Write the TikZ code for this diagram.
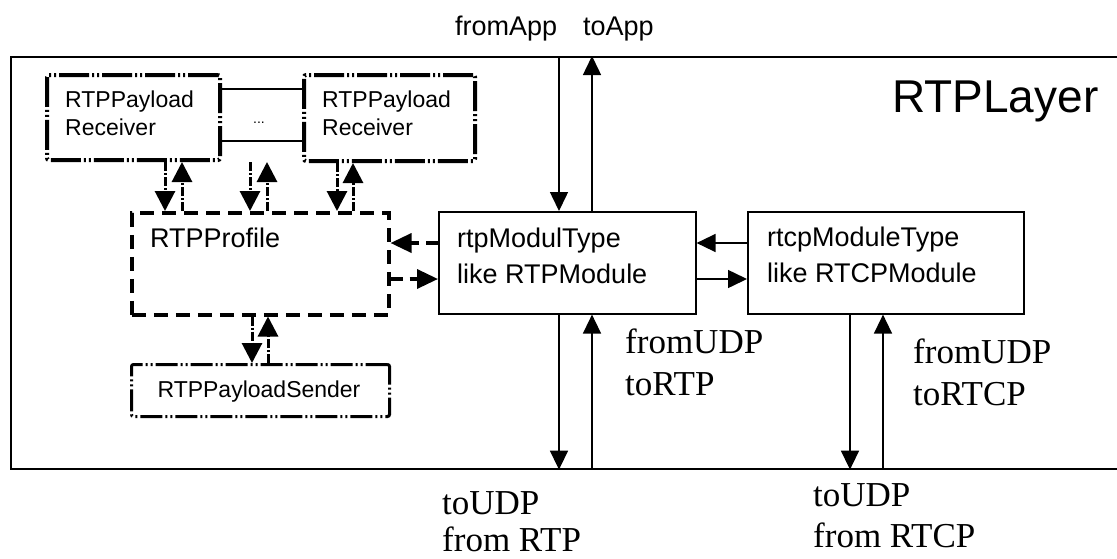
\documentclass[tikz,border=0pt]{standalone}
\usepackage{fontspec}
\setmainfont{Liberation Serif}
\setsansfont{Liberation Sans}
\usetikzlibrary{arrows.meta,calc}

\tikzset{
  frame/.style={draw, line width=1.6pt, inner sep=0pt, anchor=north west},
  modbox/.style={draw, line width=1.6pt, inner sep=0pt, anchor=north west},
  recvbox/.style={draw, line width=4pt, inner sep=0pt, anchor=north west, rounded corners=2pt,
    dash pattern=on 30pt off 3pt on 2pt off 3pt on 2pt off 3pt},
  sendbox/.style={draw, line width=3pt, inner sep=0pt, anchor=north west, rounded corners=2pt,
    dash pattern=on 22pt off 3pt on 2pt off 3pt on 2pt off 3pt},
  profbox/.style={draw, line width=3.5pt, inner sep=0pt, anchor=north west,
    dash pattern=on 14pt off 8pt},
  link/.style={line width=1.5pt},
  thinarr/.style={line width=1.5pt, -{Triangle[width=18pt,length=19pt]}},
  thickarr/.style={line width=3pt, dash pattern=on 9pt off 2pt on 2pt off 2pt,
    -{Triangle[width=20pt,length=20pt]}},
  dasharr/.style={line width=3.5pt, dash pattern=on 12pt off 7pt,
    -{Triangle[width=19pt,length=21pt]}},
  sanstext/.style={font=\sffamily\fontsize{27}{32}\selectfont, inner sep=0pt, anchor=base west},
  smalltext/.style={font=\sffamily\fontsize{23}{28}\selectfont, inner sep=0pt, anchor=base west},
  seriftext/.style={font=\rmfamily\fontsize{35}{40}\selectfont, inner sep=0pt, anchor=base west},
}

\begin{document}
\begin{tikzpicture}[x=1pt, y=-1pt]
  \fill[white] (0,0) rectangle (1117,558);
  \clip (0,0) rectangle (1117,558);

  % enclosing layer
  \node[frame, minimum width=1130pt, minimum height=412pt] (layer) at (10,56) {};
  \node[font=\sffamily\fontsize{46}{50}\selectfont, inner sep=0pt, anchor=base west] (title) at (892,112) {RTPLayer};

  % payload receivers
  \node[recvbox, minimum width=173pt, minimum height=85pt] (recvA) at (45,73) {};
  \node[recvbox, minimum width=171pt, minimum height=86pt] (recvB) at (302,73) {};
  \node[smalltext] (recvAa) at (65,107) {RTPPayload};
  \node[smalltext] (recvAb) at (65,135) {Receiver};
  \node[smalltext] (recvBa) at (322,107) {RTPPayload};
  \node[smalltext] (recvBb) at (322,135) {Receiver};
  \draw[link] ($(recvA.north east)+(0,16)$) -- ($(recvB.north west)+(0,16)$);
  \draw[link] ($(recvA.north east)+(0,68)$) -- ($(recvB.north west)+(0,68)$);
  \node[font=\sffamily\fontsize{14}{14}\selectfont, inner sep=0pt, anchor=base] (dots) at (259,123) {...};

  % profile and sender
  \node[profbox, minimum width=257pt, minimum height=102pt] (prof) at (130,211) {};
  \node[sanstext] (proftext) at (150,247) {RTPProfile};
  \node[sendbox, minimum width=258pt, minimum height=52pt] (send) at (130,363) {};
  \node[smalltext, anchor=base] (sendtext) at (259,397) {RTPPayloadSender};

  % modules
  \node[modbox, minimum width=257pt, minimum height=102pt] (rtp) at (438,211) {};
  \node[sanstext] (rtpa) at (457,247) {rtpModulType};
  \node[sanstext] (rtpb) at (457,283) {like RTPModule};
  \node[modbox, minimum width=276pt, minimum height=102pt] (rtcp) at (747,211) {};
  \node[sanstext] (rtcpa) at (767,246) {rtcpModuleType};
  \node[sanstext] (rtcpb) at (767,282) {like RTCPModule};

  % gate columns and rows
  \coordinate (xA1) at (165,0);  \coordinate (xA2) at (182,0);
  \coordinate (xM1) at (250,0);  \coordinate (xM2) at (267,0);
  \coordinate (xB1) at (337,0);  \coordinate (xB2) at (353,0);
  \coordinate (xS1) at (252,0);  \coordinate (xS2) at (268,0);
  \coordinate (xR1) at (559,0);  \coordinate (xR2) at (592,0);
  \coordinate (xC1) at (850,0);  \coordinate (xC2) at (883,0);
  \coordinate (yU) at (0,243);   \coordinate (yL) at (0,279);

  % receivers <-> profile
  \draw[thickarr] (xA1 |- recvA.south) -- (xA1 |- prof.north);
  \draw[thickarr] (xA2 |- prof.north) -- (xA2 |- recvA.south);
  \draw[thickarr] (xM1 |- recvA.south) -- (xM1 |- prof.north);
  \draw[thickarr] (xM2 |- prof.north) -- (xM2 |- recvA.south);
  \draw[thickarr] (xB1 |- recvB.south) -- (xB1 |- prof.north);
  \draw[thickarr] (xB2 |- prof.north) -- (xB2 |- recvB.south);

  % profile <-> sender
  \draw[thickarr] (xS1 |- prof.south) -- (xS1 |- send.north);
  \draw[thickarr] (xS2 |- send.north) -- (xS2 |- prof.south);

  % profile <-> rtp module
  \draw[dasharr] (rtp.west |- yU) -- (prof.east |- yU);
  \draw[dasharr] (prof.east |- yL) -- (rtp.west |- yL);

  % rtp module <-> rtcp module
  \draw[thinarr] (rtcp.west |- yU) -- (rtp.east |- yU);
  \draw[thinarr] (rtp.east |- yL) -- (rtcp.west |- yL);

  % application gates
  \draw[thinarr] (xR1 |- layer.north) -- (xR1 |- rtp.north);
  \draw[thinarr] (xR2 |- rtp.north) -- (xR2 |- layer.north);
  \node[sanstext] (fromapp) at (455,35) {fromApp};
  \node[sanstext] (toapp) at (583,35) {toApp};

  % UDP gates
  \draw[thinarr] (xR1 |- rtp.south) -- (xR1 |- layer.south);
  \draw[thinarr] (xR2 |- layer.south) -- (xR2 |- rtp.south);
  \draw[thinarr] (xC1 |- rtcp.south) -- (xC1 |- layer.south);
  \draw[thinarr] (xC2 |- layer.south) -- (xC2 |- rtcp.south);

  \node[seriftext] (rtpin1) at (625,353) {fromUDP};
  \node[seriftext] (rtpin2) at (625,395) {toRTP};
  \node[seriftext] (rtcpin1) at (913,363) {fromUDP};
  \node[seriftext] (rtcpin2) at (913,405) {toRTCP};
  \node[seriftext] (rtpout1) at (442,514) {toUDP};
  \node[seriftext] (rtpout2) at (442,551) {from RTP};
  \node[seriftext] (rtcpout1) at (813,506) {toUDP};
  \node[seriftext] (rtcpout2) at (813,547) {from RTCP};
\end{tikzpicture}
\end{document}
